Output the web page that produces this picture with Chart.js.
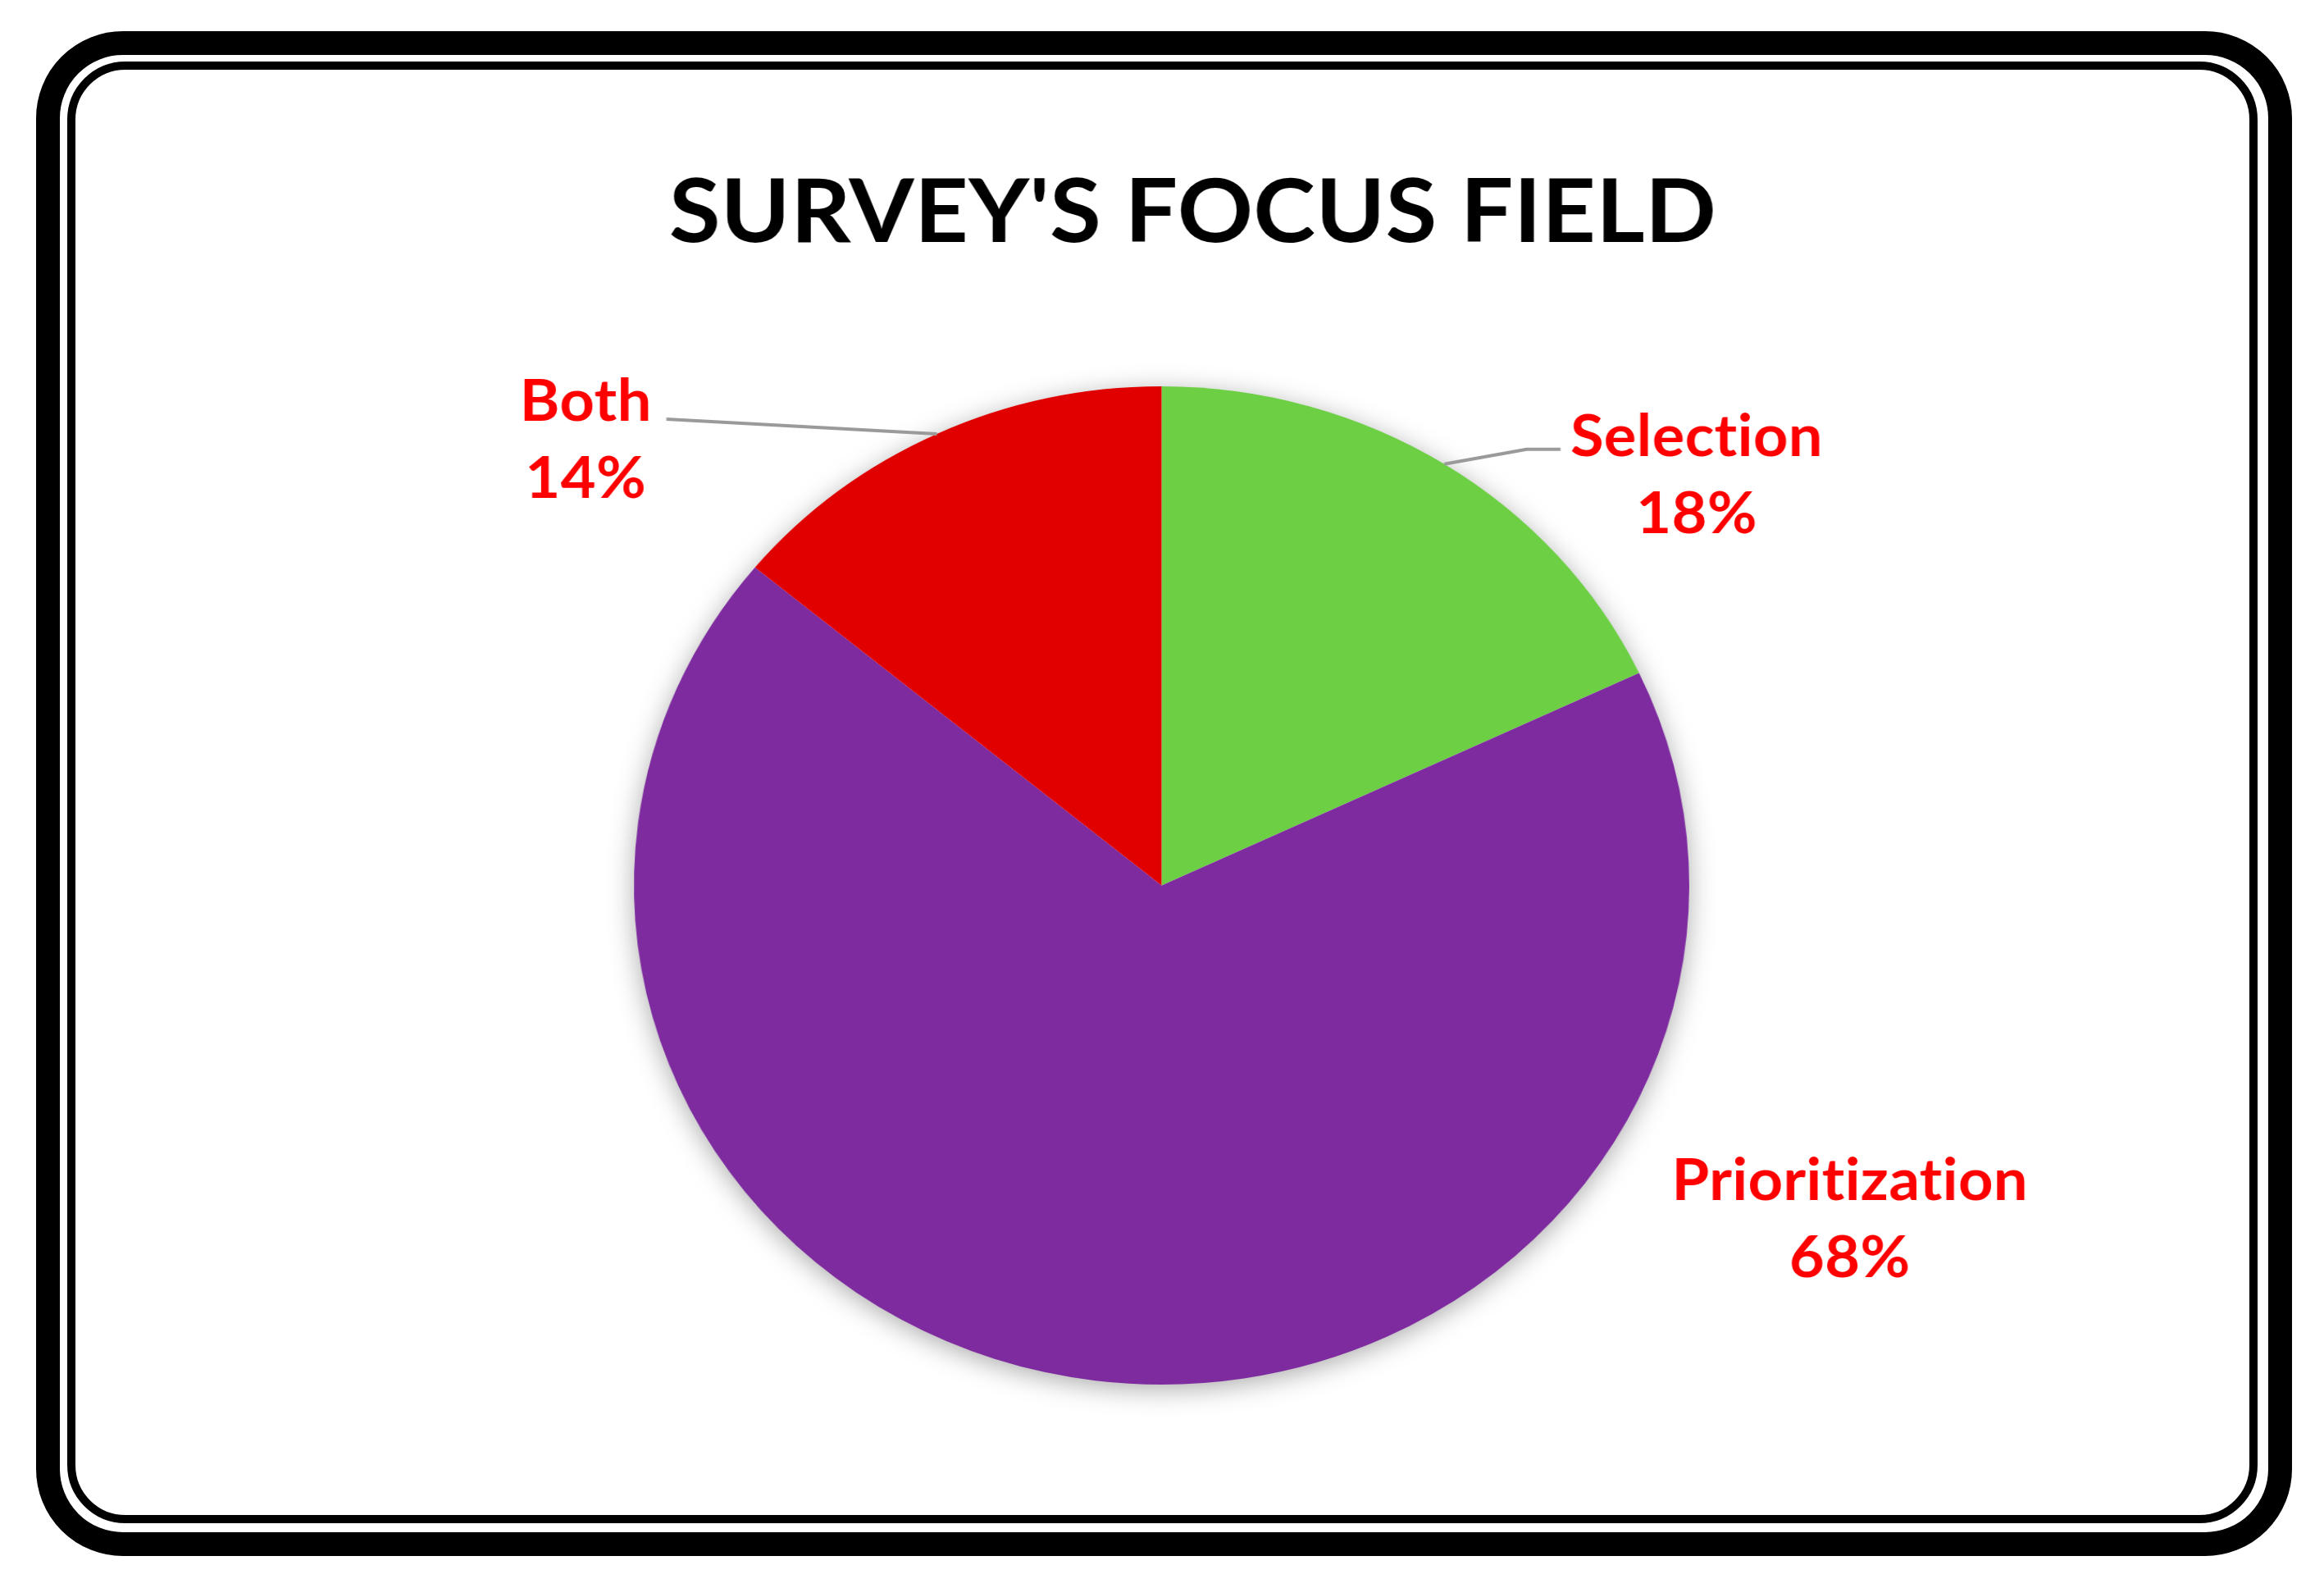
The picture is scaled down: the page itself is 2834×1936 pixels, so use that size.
<!DOCTYPE html>
<html>
<head>
<meta charset="utf-8">
<script src="https://cdn.jsdelivr.net/npm/chart.js@4.4.0/dist/chart.umd.min.js"></script>
<style>
html,body{margin:0;padding:0;background:#fff;width:2834px;height:1936px;overflow:hidden;position:relative}
#outer{position:absolute;left:44px;top:38px;width:2751px;height:1859px;box-sizing:border-box;border:29px solid #000;border-radius:106px}
#inner{position:absolute;left:82px;top:75px;width:2671px;height:1782px;box-sizing:border-box;border:10px solid #000;border-radius:71px}
#c{position:absolute;left:0;top:0}
</style>
</head>
<body>
<div id="outer"></div>
<div id="inner"></div>
<canvas id="c" width="2680" height="1936" style="width:2834px;height:1936px"></canvas>
<script>
// ---- data ----
const titleText = "SURVEY'S FOCUS FIELD";
const categories = ['Selection', 'Prioritization', 'Both'];
const values = [18, 68, 14];
const sliceColors = ['#6CCF44', '#7E2BA0', '#E00000'];

// ---- label styling / placement (offsets from the slice's outer edge at its mid-angle) ----
const labelStyle = {font: 'bold 70px Lato', color: '#FF0000', lineGap: 94, leaderColor: '#9A9A9A', leaderWidth: 4};
const labelPlacement = [
  {dx: 291, dy: -10, leader: [[0, 0], [95, -18], [134, -18]]},
  {dx: 870, dy: -220, leader: null},
  {dx: -405, dy: -16, leader: [[0, 0], [-312, -18]]}
];
const titleStyle = {font: 'bold 108px Lato', color: '#000', dxFromCenter: 36, baseline: 295};

const pieShadow = {
  id: 'pieShadow',
  beforeDatasetsDraw(chart) {
    const arc = chart.getDatasetMeta(0).data[0];
    if (!arc) return;
    const p = arc.getProps(['x', 'y', 'outerRadius'], true);
    const ctx = chart.ctx;
    ctx.save();
    ctx.shadowColor = 'rgba(0,0,0,0.35)';
    ctx.shadowBlur = 32;
    ctx.shadowOffsetY = 6;
    ctx.fillStyle = '#fff';
    ctx.beginPath();
    ctx.arc(p.x, p.y, p.outerRadius - 1, 0, Math.PI * 2);
    ctx.fill();
    ctx.restore();
  }
};

const textLayer = {
  id: 'textLayer',
  afterDatasetsDraw(chart) {
    const ctx = chart.ctx;
    const meta = chart.getDatasetMeta(0);
    const ds = chart.data.datasets[0].data;
    const total = ds.reduce((a, b) => a + b, 0);
    const ca = chart.chartArea;
    ctx.save();
    if ('letterSpacing' in ctx) ctx.letterSpacing = '0.4px';
    ctx.font = titleStyle.font;
    ctx.fillStyle = titleStyle.color;
    ctx.textAlign = 'center';
    ctx.textBaseline = 'alphabetic';
    ctx.fillText(titleText, (ca.left + ca.right) / 2 + titleStyle.dxFromCenter, titleStyle.baseline);
    ctx.restore();
    meta.data.forEach((arc, i) => {
      const p = arc.getProps(['x', 'y', 'startAngle', 'endAngle', 'outerRadius'], true);
      const mid = (p.startAngle + p.endAngle) / 2;
      const ex = p.x + Math.cos(mid) * p.outerRadius;
      const ey = p.y + Math.sin(mid) * p.outerRadius;
      const pl = labelPlacement[i];
      ctx.save();
      if (pl.leader) {
        ctx.strokeStyle = labelStyle.leaderColor;
        ctx.lineWidth = labelStyle.leaderWidth;
        ctx.lineJoin = 'round';
        ctx.beginPath();
        pl.leader.forEach((pt, k) => {
          if (k === 0) ctx.moveTo(ex + pt[0], ey + pt[1]);
          else ctx.lineTo(ex + pt[0], ey + pt[1]);
        });
        ctx.stroke();
      }
      if ('letterSpacing' in ctx) ctx.letterSpacing = '0.4px';
      ctx.font = labelStyle.font;
      ctx.fillStyle = labelStyle.color;
      ctx.textAlign = 'center';
      ctx.textBaseline = 'alphabetic';
      const lx = ex + pl.dx, ly = ey + pl.dy;
      ctx.fillText(chart.data.labels[i], lx, ly);
      ctx.fillText(Math.round(ds[i] / total * 100) + '%', lx, ly + labelStyle.lineGap);
      ctx.restore();
    });
  }
};

new Chart(document.getElementById('c'), {
  type: 'pie',
  data: {
    labels: categories,
    datasets: [{
      data: values,
      backgroundColor: sliceColors,
      borderWidth: 0,
      hoverOffset: 0
    }]
  },
  options: {
    responsive: false,
    animation: false,
    devicePixelRatio: 1,
    rotation: 0,
    layout: {padding: {top: 471, bottom: 248, left: 731, right: 732}},
    plugins: {
      legend: {display: false},
      title: {display: false},
      tooltip: {enabled: false}
    }
  },
  plugins: [pieShadow, textLayer]
});
</script>
</body>
</html>
